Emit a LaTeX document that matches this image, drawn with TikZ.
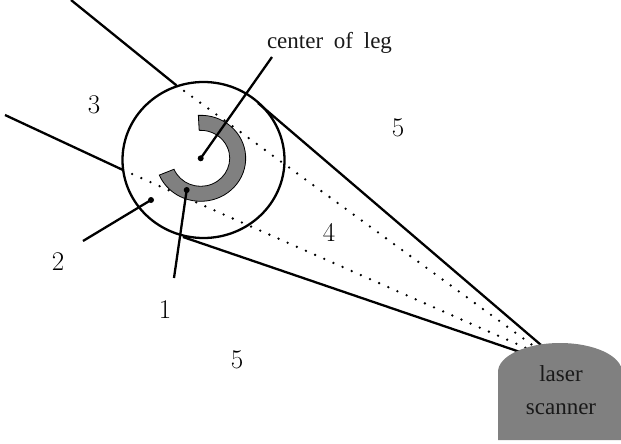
\documentclass[tikz,border=0pt]{standalone}
\usepackage{fontspec}
\usetikzlibrary{calc}
\setmainfont{Liberation Serif}
\newfontfamily\numfont{Latin Modern Roman}
\tikzset{x=1pt,y=-1pt,
 solidline/.style={black,line width=2.3pt},
 dotline/.style={black,line width=2.6pt,line cap=round,dash pattern=on 0pt off 10pt},
 lab/.style={font=\fontsize{23}{25}\selectfont,text=black!90,inner sep=0pt},
 num/.style={font=\numfont\fontsize{27}{29}\selectfont,text=black,inner sep=0pt},
 pinpt/.style={fill=black,circle,inner sep=0pt,minimum size=6pt}}
\begin{document}
\begin{tikzpicture}
\useasboundingbox (0,0) rectangle (621,444);
\coordinate (a1) at (71,0); \coordinate (a2) at (176,85);
\coordinate (b1) at (5,115); \coordinate (b2) at (123,170);
\coordinate (c1) at (258,103); \coordinate (c2) at (541,345);
\coordinate (d1) at (183,237); \coordinate (d2) at (520,352);
\coordinate (e) at (535,347); \coordinate (f) at (535,352);
\draw[solidline] (a1)--(a2);
\draw[solidline] (b1)--(b2);
\draw[solidline] (c1)--(c2);
\draw[solidline] (d1)--(d2);
\draw[dotline] (a2)--(e);
\draw[dotline] (b2)--(f);
\fill[black!50] (498,440) -- (498,372) arc[start angle=180,end angle=360,x radius=62,y radius=29] -- (622,440) -- cycle;
\draw[solidline] (203.5,160) ellipse [x radius=81,y radius=78];
\coordinate (ctr) at (200.7,158.3);
\draw[black,fill=black!50,line width=0.8pt] ($(ctr)+(-93:45 and 43)$) arc[start angle=-93,end angle=157,x radius=45,y radius=43] -- ($(ctr)+(157:29 and 28)$) arc[start angle=157,end angle=-93,x radius=29,y radius=28] -- cycle;
\node[lab] (leg) at (329.5,43) {center\hspace{5pt} of\hspace{5pt} leg};
\node[lab] (laser) at (561,374) {laser};
\node[lab] (scanner) at (561,409) {scanner};
\node[num] (n3) at (94,105) {3};
\node[num] (n5a) at (398,128) {5};
\node[num] (n4) at (329,232) {4};
\node[num] (n2) at (58,262) {2};
\node[num] (n1) at (165,310) {1};
\node[num] (n5b) at (237,360) {5};
\node[pinpt] (p0) at (ctr) {};
\node[pinpt] (p1) at (186.7,190) {};
\node[pinpt] (p2) at (151,200) {};
\coordinate (q0) at (272,57);
\coordinate (q1) at (174,278);
\coordinate (q2) at (83,241);
\draw[solidline] (p0.center)--(q0);
\draw[solidline] (p1.center)--(q1);
\draw[solidline] (p2.center)--(q2);
\end{tikzpicture}
\end{document}
